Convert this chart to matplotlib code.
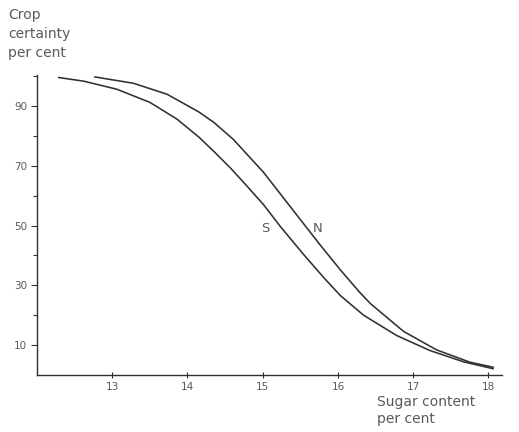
import matplotlib
matplotlib.use("Agg")
import matplotlib.pyplot as plt
from matplotlib.ticker import FixedLocator

# Data
s_x = [12.29, 12.62, 13.06, 13.50, 13.86, 14.15, 14.35, 14.58, 14.79, 15.01,
       15.23, 15.54, 15.81, 16.03, 16.34, 16.78, 17.22, 17.67, 18.06]
s_y = [99.5, 98.3, 95.6, 91.2, 85.6, 79.6, 74.8, 69.0, 63.2, 57.0,
       49.8, 40.4, 32.6, 26.6, 20.0, 13.2, 8.2, 4.4, 2.1]
n_x = [12.77, 13.28, 13.73, 14.15, 14.35, 14.61, 15.01, 15.36, 15.76, 16.03,
       16.29, 16.43, 16.87, 17.31, 17.75, 18.06]
n_y = [99.7, 97.6, 93.9, 88.0, 84.5, 78.8, 67.8, 56.5, 43.6, 35.2,
       27.6, 23.9, 14.6, 8.4, 4.3, 2.6]

x_ticks = [13, 14, 15, 16, 17, 18]
y_major = [10, 30, 50, 70, 90]
y_minor = [20, 40, 60, 80, 100]

plt.rcParams['font.family'] = ['DejaVu Sans']
grey = '#5a5a5a'
line_col = '#303030'

fig = plt.figure(figsize=(5.19, 4.32), dpi=100)
ax = fig.add_axes([0.0713, 0.132, 0.896, 0.694])

ax.plot(s_x, s_y, color=line_col, lw=1.15, solid_joinstyle='round')
ax.plot(n_x, n_y, color=line_col, lw=1.15, solid_joinstyle='round')

ax.set_xlim(12.0, 18.18)
ax.set_ylim(0.0, 100.3)

for sp in ['top', 'right']:
    ax.spines[sp].set_visible(False)
for sp in ['left', 'bottom']:
    ax.spines[sp].set_color(line_col)
    ax.spines[sp].set_linewidth(1.0)

ax.set_xticks(x_ticks)
ax.set_xticklabels([str(t) for t in x_ticks])
ax.set_yticks(y_major)
ax.set_yticklabels([str(t) for t in y_major])
ax.yaxis.set_minor_locator(FixedLocator(y_minor))
ax.tick_params(axis='y', which='major', direction='out', length=4, width=0.8,
               colors=line_col, labelcolor=grey, labelsize=7.5, pad=3)
ax.tick_params(axis='y', which='minor', direction='out', length=3, width=0.8,
               colors=line_col)
ax.tick_params(axis='x', which='major', direction='inout', length=4, width=0.8,
               colors=line_col, labelcolor=grey, labelsize=7.5, pad=3)

ax.text(15.03, 49.0, 'S', color=grey, fontsize=9.5, ha='center', va='center')
ax.text(15.73, 49.0, 'N', color=grey, fontsize=9.5, ha='center', va='center')

fig.text(8 / 519, 1 - 8 / 432, 'Crop\ncertainty\nper cent', color=grey,
         fontsize=10, ha='left', va='top', linespacing=1.45)
fig.text(377 / 519, 1 - 395 / 432, 'Sugar content\nper cent', color=grey,
         fontsize=10, ha='left', va='top', linespacing=1.3)

fig.savefig('out.png', dpi=100)
